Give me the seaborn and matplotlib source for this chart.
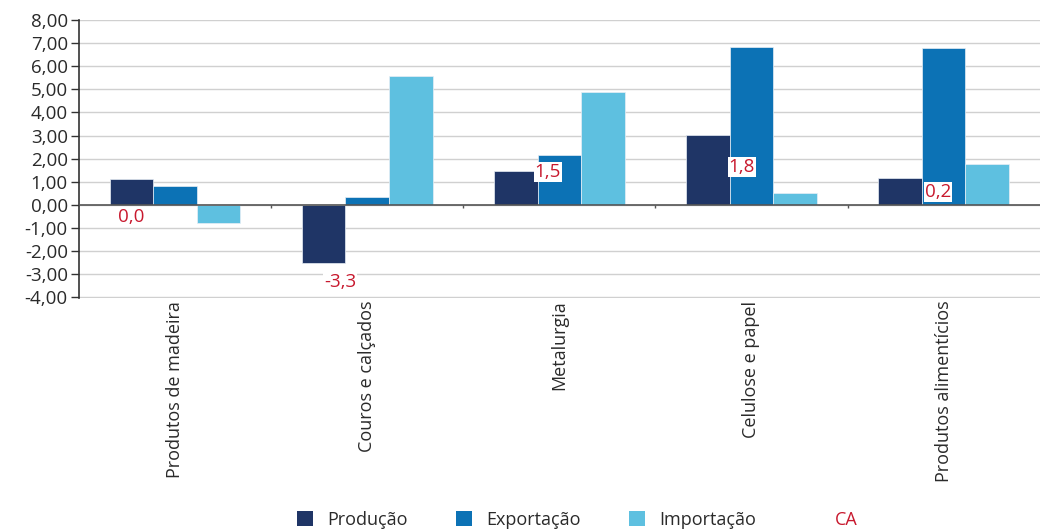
import matplotlib
matplotlib.use("Agg")
import matplotlib.pyplot as plt
import seaborn as sns
import pandas as pd
import numpy as np
from matplotlib.patches import Patch
from matplotlib.lines import Line2D

categorias = ["Produtos de madeira", "Couros e calçados", "Metalurgia",
              "Celulose e papel", "Produtos alimentícios"]
series = ["Produção", "Exportação", "Importação"]
producao = [1.10, -2.50, 1.47, 3.02, 1.16]
exportacao = [0.82, 0.32, 2.15, 6.85, 6.81]
importacao = [-0.77, 5.56, 4.87, 0.52, 1.77]
ca_valores = [0.0, -3.3, 1.5, 1.8, 0.2]
ca_rotulos = ["0,0", "-3,3", "1,5", "1,8", "0,2"]

cores = ["#1f3566", "#0c72b5", "#5ec0e0"]
cor_ca = "#c8192e"

df = pd.DataFrame({
    "categoria": categorias * 3,
    "serie": [s for s in series for _ in categorias],
    "valor": producao + exportacao + importacao,
})

sns.set_theme(style="white")
plt.rcParams["font.family"] = ["Open Sans", "DejaVu Sans"]

fig = plt.figure(figsize=(10.46, 5.30), dpi=100)
ax = fig.add_axes([0.0755, 0.438, 0.9185, 0.524])

sns.barplot(data=df, x="categoria", y="valor", hue="serie", order=categorias,
            hue_order=series, palette=cores, width=0.68, saturation=1,
            edgecolor="#e8eef5", linewidth=0.5, errorbar=None, ax=ax, zorder=3)

ax.set_ylim(-4.03, 8.0)
ax.set_xlim(-0.5, len(categorias) - 0.5)
yt = np.arange(-4, 9, 1)
ax.set_yticks(yt)
ax.set_yticklabels([f"{v:.2f}".replace(".", ",") for v in yt], fontsize=13.5, color="#2a2a2a")
ax.yaxis.grid(True, color="#d0d0d0", linewidth=1, zorder=0)
ax.set_axisbelow(True)
ax.tick_params(axis="y", which="major", direction="out", length=6, width=1,
               color="#333333", left=True, pad=2)
ax.tick_params(axis="x", length=0, pad=2)
ax.set_xticks(range(len(categorias)))
ax.set_xticklabels(categorias, rotation=90, fontsize=13, color="#2a2a2a", va="top", ha="center")
ax.set_xlabel("")
ax.set_ylabel("")
for s in ["top", "right", "bottom"]:
    ax.spines[s].set_visible(False)
ax.spines["left"].set_color("#333333")
ax.spines["left"].set_linewidth(1.2)

ax.axhline(0, color="#555555", linewidth=1.2, zorder=4)
ax.vlines(np.arange(0.5, len(categorias) - 0.5, 1), -0.12, 0, color="#555555",
          linewidth=1, zorder=4)

# CA labels (placement offsets relative to category center, y position)
ca_dx = [-0.23, -0.14, -0.06, -0.05, -0.03]
ca_y = [-0.52, -3.36, 1.42, 1.64, 0.56]
for i, (lab, dx, yy) in enumerate(zip(ca_rotulos, ca_dx, ca_y)):
    ax.text(i + dx, yy, lab, color=cor_ca, fontsize=13.5, ha="center", va="center",
            zorder=6, bbox=dict(boxstyle="square,pad=0.06", facecolor="white",
                                edgecolor="none"))

ax.get_legend().remove()
handles = [Patch(facecolor=c, edgecolor="none") for c in cores]
handles.append(Line2D([], [], linestyle="none", marker=None))
leg = fig.legend(handles, series + ["CA"], loc="lower center", ncol=4,
                 bbox_to_anchor=(0.552, -0.028), frameon=False, fontsize=13,
                 handlelength=0.85, handleheight=0.85, handletextpad=0.8,
                 columnspacing=2.7)
for t in leg.get_texts():
    t.set_color("#2a2a2a")
leg.get_texts()[3].set_color(cor_ca)

fig.savefig("out.png", dpi=100)
